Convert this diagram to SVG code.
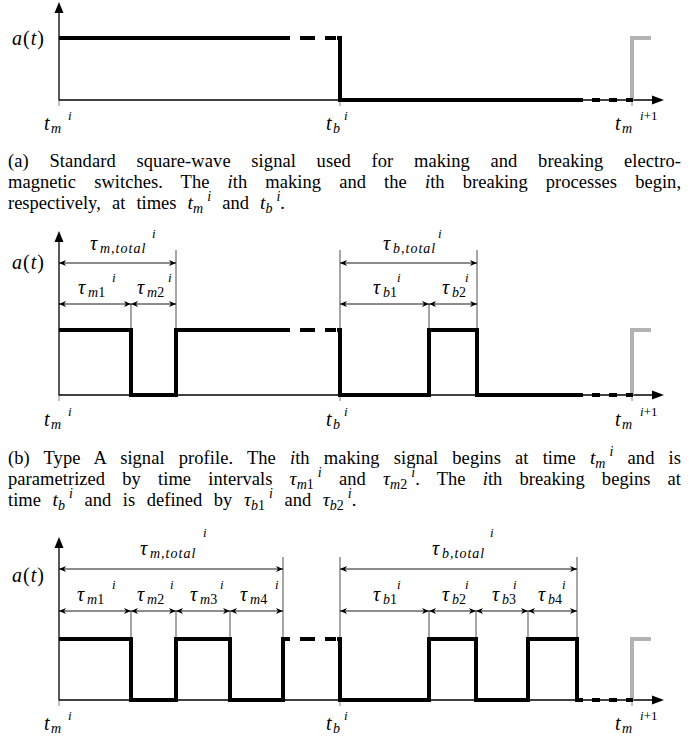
<svg xmlns="http://www.w3.org/2000/svg" width="689" height="743" viewBox="0 0 689 743" font-family="Liberation Serif, serif">
<style>
.axis{stroke:#000;stroke-width:1.3;fill:none}
.tick{stroke:#666;stroke-width:0.8;fill:none}
.sig{stroke:#000;stroke-width:4;fill:none;stroke-linejoin:miter;stroke-linecap:butt}
.gray{stroke:#b3b3b3;stroke-width:4;fill:none;stroke-linejoin:miter}
.thin{stroke:#000;stroke-width:0.7;fill:none}
.dim{stroke:#000;stroke-width:0.9;fill:none}
.ah{fill:#000;stroke:none}
</style>

<g id="panel-a" font-family="Liberation Serif, serif">
<line class="axis" x1="59" y1="100" x2="655" y2="100"/>
<polygon class="ah" points="664,100 652,95.5 652,104.5"/>
<line class="axis" x1="59" y1="100.6" x2="59" y2="12"/>
<polygon class="ah" points="59,2 54.5,13 63.5,13"/>
<path class="tick" d="M59,100 V106 M340,100 V106 M632,100 V106"/>
<path class="gray" d="M632,100 V38 H651"/>
<path class="sig" d="M59,38 H290 M300,38 H315 M325,38 H336 M337,38 H340 V100 H583 M592,100 H600 M609,100 H617 M626,100 H633"/>
<text style="font-family:'Liberation Serif',serif;font-style:italic;font-size:20px" x="12" y="45" letter-spacing="1">a<tspan style="font-family:'Liberation Serif',serif;font-style:normal">(</tspan>t<tspan style="font-family:'Liberation Serif',serif;font-style:normal">)</tspan></text>
<text style="font-family:'Liberation Serif',serif;font-style:italic;font-size:20px" x="44" y="130">t</text><text style="font-family:'Liberation Serif',serif;font-style:italic;font-size:14px" x="51" y="133">m</text><text style="font-family:'Liberation Serif',serif;font-style:italic;font-size:13px" x="68" y="120">i</text>
<text style="font-family:'Liberation Serif',serif;font-style:italic;font-size:20px" x="326" y="130">t</text><text style="font-family:'Liberation Serif',serif;font-style:italic;font-size:14px" x="333" y="133">b</text><text style="font-family:'Liberation Serif',serif;font-style:italic;font-size:13px" x="344" y="120">i</text>
<text style="font-family:'Liberation Serif',serif;font-style:italic;font-size:20px" x="615" y="130">t</text><text style="font-family:'Liberation Serif',serif;font-style:italic;font-size:14px" x="622" y="133">m</text><text style="font-family:'Liberation Serif',serif;font-style:italic;font-size:13px" x="640" y="120">i<tspan style="font-family:'Liberation Serif',serif;font-style:normal">+1</tspan></text>
</g>

<g id="caption-a" font-family="Liberation Serif, serif">
<text style="font-family:'Liberation Serif',serif;font-size:18.5px" x="8" y="167" word-spacing="16" textLength="673" lengthAdjust="spacing">(a) Standard square-wave signal used for making and breaking electro-</text>
<text style="font-family:'Liberation Serif',serif;font-size:18.5px" x="8" y="188" word-spacing="13.5" textLength="673" lengthAdjust="spacing">magnetic switches. The <tspan style="font-family:'Liberation Serif',serif;font-style:italic">i</tspan>th making and the <tspan style="font-family:'Liberation Serif',serif;font-style:italic">i</tspan>th breaking processes begin,</text>
<text style="font-family:'Liberation Serif',serif;font-size:18.5px" x="8" y="209" word-spacing="6.5">respectively, at times <tspan style="font-family:'Liberation Serif',serif;font-style:italic;font-size:19.5px">t</tspan><tspan style="font-family:'Liberation Serif',serif;font-style:italic;font-size:14px" dy="4">m</tspan><tspan style="font-family:'Liberation Serif',serif;font-style:italic;font-size:14px" dx="4" dy="-12">i</tspan><tspan style="font-family:'Liberation Serif',serif" dy="8"> and </tspan><tspan style="font-family:'Liberation Serif',serif;font-style:italic;font-size:19.5px">t</tspan><tspan style="font-family:'Liberation Serif',serif;font-style:italic;font-size:14px" dy="4">b</tspan><tspan style="font-family:'Liberation Serif',serif;font-style:italic;font-size:14px" dx="4" dy="-12">i</tspan><tspan style="font-family:'Liberation Serif',serif" dy="8">.</tspan></text>
</g>

<g id="panel-b" font-family="Liberation Serif, serif">
<line class="axis" x1="59" y1="395" x2="655" y2="395"/>
<polygon class="ah" points="664,395 652,390.5 652,399.5"/>
<line class="axis" x1="59" y1="395.6" x2="59" y2="241"/>
<polygon class="ah" points="59,231 54.5,242 63.5,242"/>
<path class="tick" d="M59,395 V401 M340,395 V401 M632,395 V401"/>
<path class="gray" d="M632,395 V330 H651"/>
<path class="sig" d="M59,330 H131 V395 H176 V330 H290 M300,330 H315 M325,330 H336 M337,330 H340 V395 H429 V330 H477 V395 H583 M592,395 H600 M609,395 H617 M626,395 H633"/>
<text style="font-family:'Liberation Serif',serif;font-style:italic;font-size:20px" x="12" y="269" letter-spacing="1">a<tspan style="font-family:'Liberation Serif',serif;font-style:normal">(</tspan>t<tspan style="font-family:'Liberation Serif',serif;font-style:normal">)</tspan></text>
<text style="font-family:'Liberation Serif',serif;font-style:italic;font-size:20px" x="44" y="426">t</text><text style="font-family:'Liberation Serif',serif;font-style:italic;font-size:14px" x="51" y="429">m</text><text style="font-family:'Liberation Serif',serif;font-style:italic;font-size:13px" x="68" y="416">i</text>
<text style="font-family:'Liberation Serif',serif;font-style:italic;font-size:20px" x="326" y="426">t</text><text style="font-family:'Liberation Serif',serif;font-style:italic;font-size:14px" x="333" y="429">b</text><text style="font-family:'Liberation Serif',serif;font-style:italic;font-size:13px" x="344" y="416">i</text>
<text style="font-family:'Liberation Serif',serif;font-style:italic;font-size:20px" x="615" y="426">t</text><text style="font-family:'Liberation Serif',serif;font-style:italic;font-size:14px" x="622" y="429">m</text><text style="font-family:'Liberation Serif',serif;font-style:italic;font-size:13px" x="640" y="416">i<tspan style="font-family:'Liberation Serif',serif;font-style:normal">+1</tspan></text>
<text style="font-family:'Liberation Serif',serif;font-style:italic;font-size:20px" x="90" y="250">τ</text><text style="font-family:'Liberation Serif',serif;font-style:italic;font-size:14px" x="100" y="253" letter-spacing="1">m,total</text><text style="font-family:'Liberation Serif',serif;font-style:italic;font-size:13px" x="152" y="238">i</text>
<text style="font-family:'Liberation Serif',serif;font-style:italic;font-size:20px" x="78" y="294">τ</text><text style="font-family:'Liberation Serif',serif;font-style:italic;font-size:14px" x="88" y="297">m<tspan style="font-family:'Liberation Serif',serif;font-style:normal">1</tspan></text><text style="font-family:'Liberation Serif',serif;font-style:italic;font-size:13px" x="112" y="282">i</text>
<text style="font-family:'Liberation Serif',serif;font-style:italic;font-size:20px" x="137" y="294">τ</text><text style="font-family:'Liberation Serif',serif;font-style:italic;font-size:14px" x="147" y="297">m<tspan style="font-family:'Liberation Serif',serif;font-style:normal">2</tspan></text><text style="font-family:'Liberation Serif',serif;font-style:italic;font-size:13px" x="168" y="282">i</text>
<text style="font-family:'Liberation Serif',serif;font-style:italic;font-size:20px" x="383" y="250">τ</text><text style="font-family:'Liberation Serif',serif;font-style:italic;font-size:14px" x="393" y="253" letter-spacing="1">b,total</text><text style="font-family:'Liberation Serif',serif;font-style:italic;font-size:13px" x="438" y="238">i</text>
<text style="font-family:'Liberation Serif',serif;font-style:italic;font-size:20px" x="373" y="294">τ</text><text style="font-family:'Liberation Serif',serif;font-style:italic;font-size:14px" x="383" y="297">b<tspan style="font-family:'Liberation Serif',serif;font-style:normal">1</tspan></text><text style="font-family:'Liberation Serif',serif;font-style:italic;font-size:13px" x="397" y="282">i</text>
<text style="font-family:'Liberation Serif',serif;font-style:italic;font-size:20px" x="442" y="294">τ</text><text style="font-family:'Liberation Serif',serif;font-style:italic;font-size:14px" x="452" y="297">b<tspan style="font-family:'Liberation Serif',serif;font-style:normal">2</tspan></text><text style="font-family:'Liberation Serif',serif;font-style:italic;font-size:13px" x="465" y="282">i</text>
</g>

<g id="caption-b" font-family="Liberation Serif, serif">
<text style="font-family:'Liberation Serif',serif;font-size:18.5px" x="8" y="464" word-spacing="9.5" textLength="673" lengthAdjust="spacing">(b) Type A signal profile. The <tspan style="font-family:'Liberation Serif',serif;font-style:italic">i</tspan>th making signal begins at time <tspan style="font-family:'Liberation Serif',serif;font-style:italic;font-size:19.5px">t</tspan><tspan style="font-family:'Liberation Serif',serif;font-style:italic;font-size:14px" dy="4">m</tspan><tspan style="font-family:'Liberation Serif',serif;font-style:italic;font-size:14px" dx="4" dy="-12">i</tspan><tspan style="font-family:'Liberation Serif',serif" dy="8"> and is</tspan></text>
<text style="font-family:'Liberation Serif',serif;font-size:18.5px" x="8" y="485" word-spacing="12.5" textLength="673" lengthAdjust="spacing">parametrized by time intervals <tspan style="font-family:'Liberation Serif',serif;font-style:italic;font-size:19.5px">τ</tspan><tspan style="font-family:'Liberation Serif',serif;font-style:italic;font-size:14px" dy="4">m</tspan><tspan style="font-family:'Liberation Serif',serif;font-size:14px">1</tspan><tspan style="font-family:'Liberation Serif',serif;font-style:italic;font-size:14px" dx="4" dy="-12">i</tspan><tspan style="font-family:'Liberation Serif',serif" dy="8"> and </tspan><tspan style="font-family:'Liberation Serif',serif;font-style:italic;font-size:19.5px">τ</tspan><tspan style="font-family:'Liberation Serif',serif;font-style:italic;font-size:14px" dy="4">m</tspan><tspan style="font-family:'Liberation Serif',serif;font-size:14px">2</tspan><tspan style="font-family:'Liberation Serif',serif;font-style:italic;font-size:14px" dx="4" dy="-12">i</tspan><tspan style="font-family:'Liberation Serif',serif" dy="8">. The </tspan><tspan style="font-family:'Liberation Serif',serif;font-style:italic">i</tspan>th breaking begins at</text>
<text style="font-family:'Liberation Serif',serif;font-size:18.5px" x="8" y="506" word-spacing="7">time <tspan style="font-family:'Liberation Serif',serif;font-style:italic;font-size:19.5px">t</tspan><tspan style="font-family:'Liberation Serif',serif;font-style:italic;font-size:14px" dy="4">b</tspan><tspan style="font-family:'Liberation Serif',serif;font-style:italic;font-size:14px" dx="4" dy="-12">i</tspan><tspan style="font-family:'Liberation Serif',serif" dy="8"> and is defined by </tspan><tspan style="font-family:'Liberation Serif',serif;font-style:italic;font-size:19.5px">τ</tspan><tspan style="font-family:'Liberation Serif',serif;font-style:italic;font-size:14px" dy="4">b</tspan><tspan style="font-family:'Liberation Serif',serif;font-size:14px">1</tspan><tspan style="font-family:'Liberation Serif',serif;font-style:italic;font-size:14px" dx="4" dy="-12">i</tspan><tspan style="font-family:'Liberation Serif',serif" dy="8"> and </tspan><tspan style="font-family:'Liberation Serif',serif;font-style:italic;font-size:19.5px">τ</tspan><tspan style="font-family:'Liberation Serif',serif;font-style:italic;font-size:14px" dy="4">b</tspan><tspan style="font-family:'Liberation Serif',serif;font-size:14px">2</tspan><tspan style="font-family:'Liberation Serif',serif;font-style:italic;font-size:14px" dx="4" dy="-12">i</tspan><tspan style="font-family:'Liberation Serif',serif" dy="8">.</tspan></text>
</g>

<g id="panel-c" font-family="Liberation Serif, serif">
<line class="axis" x1="59" y1="700" x2="655" y2="700"/>
<polygon class="ah" points="664,700 652,695.5 652,704.5"/>
<line class="axis" x1="59" y1="700.6" x2="59" y2="547"/>
<polygon class="ah" points="59,537 54.5,548 63.5,548"/>
<path class="tick" d="M59,700 V706 M340,700 V706 M632,700 V706"/>
<path class="gray" d="M632,700 V639 H651"/>
<path class="sig" d="M59,639 H131 V700 H176 V639 H230 V700 H283 V639 H290 M300,639 H315 M325,639 H336 M337,639 H340 V700 H429 V639 H476 V700 H528 V639 H577 V700 H583 M592,700 H600 M609,700 H617 M626,700 H633"/>
<text style="font-family:'Liberation Serif',serif;font-style:italic;font-size:20px" x="12" y="582" letter-spacing="1">a<tspan style="font-family:'Liberation Serif',serif;font-style:normal">(</tspan>t<tspan style="font-family:'Liberation Serif',serif;font-style:normal">)</tspan></text>
<text style="font-family:'Liberation Serif',serif;font-style:italic;font-size:20px" x="44" y="730">t</text><text style="font-family:'Liberation Serif',serif;font-style:italic;font-size:14px" x="51" y="733">m</text><text style="font-family:'Liberation Serif',serif;font-style:italic;font-size:13px" x="68" y="720">i</text>
<text style="font-family:'Liberation Serif',serif;font-style:italic;font-size:20px" x="326" y="730">t</text><text style="font-family:'Liberation Serif',serif;font-style:italic;font-size:14px" x="333" y="733">b</text><text style="font-family:'Liberation Serif',serif;font-style:italic;font-size:13px" x="344" y="720">i</text>
<text style="font-family:'Liberation Serif',serif;font-style:italic;font-size:20px" x="615" y="730">t</text><text style="font-family:'Liberation Serif',serif;font-style:italic;font-size:14px" x="622" y="733">m</text><text style="font-family:'Liberation Serif',serif;font-style:italic;font-size:13px" x="640" y="720">i<tspan style="font-family:'Liberation Serif',serif;font-style:normal">+1</tspan></text>
<text style="font-family:'Liberation Serif',serif;font-style:italic;font-size:20px" x="140" y="555">τ</text><text style="font-family:'Liberation Serif',serif;font-style:italic;font-size:14px" x="150" y="558" letter-spacing="1">m,total</text><text style="font-family:'Liberation Serif',serif;font-style:italic;font-size:13px" x="203" y="537">i</text>
<text style="font-family:'Liberation Serif',serif;font-style:italic;font-size:20px" x="432" y="555">τ</text><text style="font-family:'Liberation Serif',serif;font-style:italic;font-size:14px" x="442" y="558" letter-spacing="1">b,total</text><text style="font-family:'Liberation Serif',serif;font-style:italic;font-size:13px" x="490" y="537">i</text>
<text style="font-family:'Liberation Serif',serif;font-style:italic;font-size:20px" x="77" y="601">τ</text><text style="font-family:'Liberation Serif',serif;font-style:italic;font-size:14px" x="87" y="604">m<tspan style="font-family:'Liberation Serif',serif;font-style:normal">1</tspan></text><text style="font-family:'Liberation Serif',serif;font-style:italic;font-size:13px" x="112" y="589">i</text>
<text style="font-family:'Liberation Serif',serif;font-style:italic;font-size:20px" x="137" y="601">τ</text><text style="font-family:'Liberation Serif',serif;font-style:italic;font-size:14px" x="147" y="604">m<tspan style="font-family:'Liberation Serif',serif;font-style:normal">2</tspan></text><text style="font-family:'Liberation Serif',serif;font-style:italic;font-size:13px" x="170" y="589">i</text>
<text style="font-family:'Liberation Serif',serif;font-style:italic;font-size:20px" x="190" y="601">τ</text><text style="font-family:'Liberation Serif',serif;font-style:italic;font-size:14px" x="200" y="604">m<tspan style="font-family:'Liberation Serif',serif;font-style:normal">3</tspan></text><text style="font-family:'Liberation Serif',serif;font-style:italic;font-size:13px" x="220" y="589">i</text>
<text style="font-family:'Liberation Serif',serif;font-style:italic;font-size:20px" x="240" y="601">τ</text><text style="font-family:'Liberation Serif',serif;font-style:italic;font-size:14px" x="250" y="604">m<tspan style="font-family:'Liberation Serif',serif;font-style:normal">4</tspan></text><text style="font-family:'Liberation Serif',serif;font-style:italic;font-size:13px" x="275" y="589">i</text>
<text style="font-family:'Liberation Serif',serif;font-style:italic;font-size:20px" x="373" y="601">τ</text><text style="font-family:'Liberation Serif',serif;font-style:italic;font-size:14px" x="383" y="604">b<tspan style="font-family:'Liberation Serif',serif;font-style:normal">1</tspan></text><text style="font-family:'Liberation Serif',serif;font-style:italic;font-size:13px" x="397" y="589">i</text>
<text style="font-family:'Liberation Serif',serif;font-style:italic;font-size:20px" x="442" y="601">τ</text><text style="font-family:'Liberation Serif',serif;font-style:italic;font-size:14px" x="452" y="604">b<tspan style="font-family:'Liberation Serif',serif;font-style:normal">2</tspan></text><text style="font-family:'Liberation Serif',serif;font-style:italic;font-size:13px" x="465" y="589">i</text>
<text style="font-family:'Liberation Serif',serif;font-style:italic;font-size:20px" x="492" y="601">τ</text><text style="font-family:'Liberation Serif',serif;font-style:italic;font-size:14px" x="502" y="604">b<tspan style="font-family:'Liberation Serif',serif;font-style:normal">3</tspan></text><text style="font-family:'Liberation Serif',serif;font-style:italic;font-size:13px" x="513" y="589">i</text>
<text style="font-family:'Liberation Serif',serif;font-style:italic;font-size:20px" x="538" y="601">τ</text><text style="font-family:'Liberation Serif',serif;font-style:italic;font-size:14px" x="548" y="604">b<tspan style="font-family:'Liberation Serif',serif;font-style:normal">4</tspan></text><text style="font-family:'Liberation Serif',serif;font-style:italic;font-size:13px" x="562" y="589">i</text>
</g>

<g id="connectors">
<path class="thin" d="M176,250 V330 M131,304 V330 M340,250 V330 M477,250 V330 M429,304 V330"/>
<path class="dim" d="M59,263 H176 M340,263 H477 M59,304 H131 M131,304 H176 M340,304 H429 M429,304 H477"/>
<path class="ah" d="M59,263 l7,-3 l-2,3 l2,3 Z M176,263 l-7,-3 l2,3 l-2,3 Z M340,263 l7,-3 l-2,3 l2,3 Z M477,263 l-7,-3 l2,3 l-2,3 Z M59,304 l7,-3 l-2,3 l2,3 Z M131,304 l-7,-3 l2,3 l-2,3 Z M131,304 l7,-3 l-2,3 l2,3 Z M176,304 l-7,-3 l2,3 l-2,3 Z M340,304 l7,-3 l-2,3 l2,3 Z M429,304 l-7,-3 l2,3 l-2,3 Z M429,304 l7,-3 l-2,3 l2,3 Z M477,304 l-7,-3 l2,3 l-2,3 Z"/>
<path class="thin" d="M283,557 V639 M131,611 V639 M176,611 V639 M230,611 V639 M340,557 V639 M577,557 V639 M429,611 V639 M476,611 V639 M528,611 V639"/>
<path class="dim" d="M59,569 H283 M340,569 H577 M59,611 H283 M340,611 H577"/>
<path class="ah" d="M59,569 l7,-3 l-2,3 l2,3 Z M283,569 l-7,-3 l2,3 l-2,3 Z M340,569 l7,-3 l-2,3 l2,3 Z M577,569 l-7,-3 l2,3 l-2,3 Z M59,611 l7,-3 l-2,3 l2,3 Z M131,611 l-7,-3 l2,3 l-2,3 Z M131,611 l7,-3 l-2,3 l2,3 Z M176,611 l-7,-3 l2,3 l-2,3 Z M176,611 l7,-3 l-2,3 l2,3 Z M230,611 l-7,-3 l2,3 l-2,3 Z M230,611 l7,-3 l-2,3 l2,3 Z M283,611 l-7,-3 l2,3 l-2,3 Z M340,611 l7,-3 l-2,3 l2,3 Z M429,611 l-7,-3 l2,3 l-2,3 Z M429,611 l7,-3 l-2,3 l2,3 Z M476,611 l-7,-3 l2,3 l-2,3 Z M476,611 l7,-3 l-2,3 l2,3 Z M528,611 l-7,-3 l2,3 l-2,3 Z M528,611 l7,-3 l-2,3 l2,3 Z M577,611 l-7,-3 l2,3 l-2,3 Z"/>
</g>
</svg>
